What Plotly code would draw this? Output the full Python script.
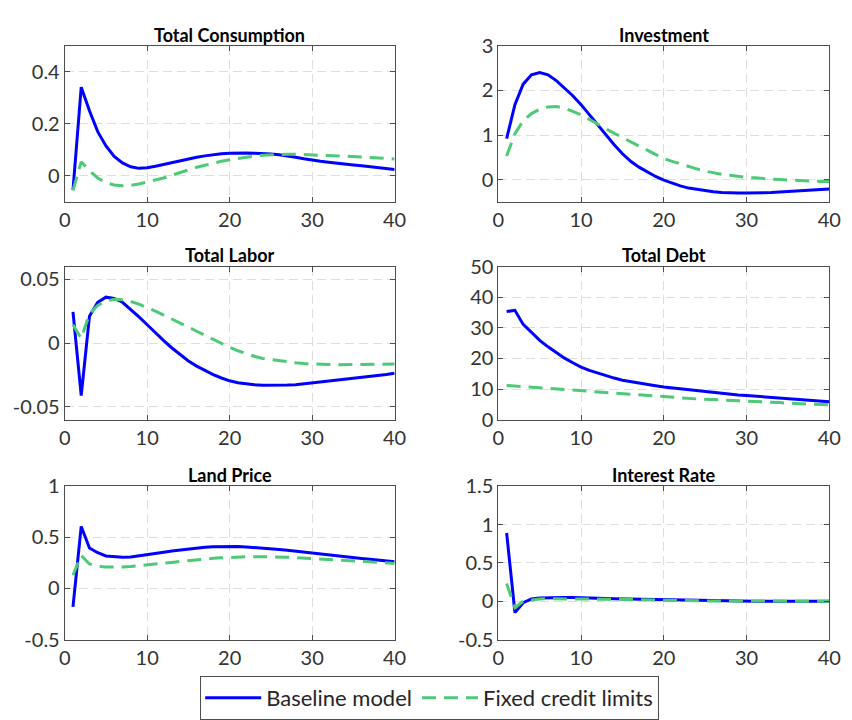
import plotly.graph_objects as go

# Impulse responses, periods 1..40
periods = list(range(1, 41))

titles = ["Total Consumption", "Investment", "Total Labor",
          "Total Debt", "Land Price", "Interest Rate"]

cons_base = [-0.055, 0.341, 0.25, 0.17, 0.115, 0.075, 0.05, 0.035, 0.029, 0.031,
             0.037, 0.044, 0.052, 0.059, 0.066, 0.072, 0.077, 0.082, 0.085, 0.087,
             0.088, 0.088, 0.087, 0.086, 0.084, 0.081, 0.077, 0.072, 0.066, 0.060,
             0.056, 0.052, 0.048, 0.045, 0.042, 0.039, 0.035, 0.032, 0.029, 0.025]
cons_fixed = [-0.055, 0.054, 0.02, -0.008, -0.026, -0.035, -0.038, -0.036, -0.031, -0.024,
              -0.016, -0.008, 0.003, 0.014, 0.024, 0.033, 0.041, 0.049, 0.056, 0.062,
              0.067, 0.072, 0.076, 0.079, 0.081, 0.083, 0.083, 0.083, 0.082, 0.081,
              0.080, 0.079, 0.077, 0.076, 0.075, 0.073, 0.071, 0.069, 0.067, 0.065]

inv_base = [0.92, 1.68, 2.14, 2.35, 2.40, 2.35, 2.22, 2.06, 1.88, 1.68,
            1.45, 1.22, 0.99, 0.78, 0.58, 0.41, 0.28, 0.17, 0.07, -0.01,
            -0.08, -0.14, -0.19, -0.22, -0.25, -0.27, -0.29, -0.30, -0.30, -0.30,
            -0.30, -0.29, -0.29, -0.28, -0.27, -0.26, -0.25, -0.24, -0.22, -0.21]
inv_fixed = [0.53, 1.03, 1.32, 1.48, 1.58, 1.63, 1.64, 1.60, 1.53, 1.45,
             1.35, 1.24, 1.14, 1.04, 0.94, 0.84, 0.75, 0.66, 0.56, 0.47,
             0.41, 0.35, 0.29, 0.24, 0.19, 0.15, 0.12, 0.10, 0.07, 0.05,
             0.04, 0.02, 0.01, 0.00, -0.01, -0.02, -0.03, -0.03, -0.04, -0.04]

lab_base = [0.0245, -0.041, 0.021, 0.032, 0.036, 0.035, 0.032, 0.0265, 0.0205, 0.0144,
            0.008, 0.0020, -0.0038, -0.0092, -0.0140, -0.0180, -0.0215, -0.0246, -0.0273, -0.0295,
            -0.0310, -0.0320, -0.0326, -0.0330, -0.0331, -0.0330, -0.0328, -0.0325, -0.0318, -0.0312,
            -0.0305, -0.0299, -0.0292, -0.0285, -0.0278, -0.0270, -0.0262, -0.0254, -0.0245, -0.0235]
lab_fixed = [0.0144, 0.0038, 0.023, 0.0295, 0.033, 0.0343, 0.034, 0.0326, 0.0305, 0.028,
             0.025, 0.022, 0.019, 0.0157, 0.0125, 0.0093, 0.006, 0.003, 0.0, -0.0033,
             -0.006, -0.0083, -0.0103, -0.012, -0.0129, -0.014, -0.0148, -0.0154, -0.016, -0.0164,
             -0.0166, -0.0168, -0.0169, -0.0169, -0.0169, -0.0168, -0.0167, -0.0166, -0.0165, -0.0164]

debt_base = [35.3, 35.7, 31.1, 28.5, 25.9, 23.8, 21.9, 20.1, 18.6, 17.2,
             16.1, 15.2, 14.4, 13.6, 12.9, 12.4, 11.9, 11.5, 11.1, 10.7,
             10.4, 10.1, 9.7, 9.4, 9.1, 8.9, 8.6, 8.4, 8.1, 7.9,
             7.7, 7.5, 7.3, 7.0, 6.8, 6.6, 6.4, 6.2, 6.1, 5.9]
debt_fixed = [11.2, 11.0, 10.8, 10.6, 10.4, 10.2, 10.0, 9.8, 9.6, 9.4,
              9.2, 9.0, 8.8, 8.6, 8.4, 8.2, 8.0, 7.8, 7.6, 7.4,
              7.3, 7.1, 7.0, 6.8, 6.7, 6.6, 6.5, 6.3, 6.2, 6.0,
              5.9, 5.8, 5.7, 5.6, 5.4, 5.3, 5.2, 5.1, 5.0, 4.9]

land_base = [-0.18, 0.607, 0.396, 0.35, 0.318, 0.308, 0.305, 0.308, 0.318, 0.330,
             0.342, 0.355, 0.366, 0.377, 0.388, 0.396, 0.403, 0.408, 0.411, 0.412,
             0.410, 0.406, 0.401, 0.395, 0.388, 0.381, 0.373, 0.365, 0.357, 0.349,
             0.340, 0.331, 0.322, 0.312, 0.303, 0.294, 0.285, 0.277, 0.269, 0.261]
land_fixed = [0.129, 0.324, 0.239, 0.217, 0.211, 0.208, 0.209, 0.214, 0.221, 0.230,
              0.238, 0.245, 0.255, 0.265, 0.274, 0.282, 0.289, 0.295, 0.300, 0.305,
              0.308, 0.310, 0.311, 0.311, 0.311, 0.309, 0.306, 0.302, 0.297, 0.292,
              0.289, 0.285, 0.282, 0.278, 0.274, 0.268, 0.262, 0.256, 0.250, 0.245]

rate_base = [0.89, -0.147, -0.02, 0.03, 0.042, 0.046, 0.049, 0.05, 0.047, 0.042,
             0.040, 0.038, 0.035, 0.032, 0.030, 0.026, 0.023, 0.019, 0.016, 0.013,
             0.011, 0.009, 0.007, 0.005, 0.004, 0.003, 0.002, 0.001, 0.001, 0.0,
             0.0, 0.0, -0.001, -0.001, -0.001, -0.001, -0.001, -0.001, -0.001, -0.001]
rate_fixed = [0.23, -0.085, 0.0, 0.02, 0.03, 0.031, 0.031, 0.031, 0.032, 0.033,
              0.032, 0.030, 0.028, 0.026, 0.025, 0.022, 0.019, 0.016, 0.014, 0.012,
              0.010, 0.008, 0.006, 0.005, 0.004, 0.003, 0.002, 0.001, 0.001, 0.0,
              0.0, 0.0, 0.0, 0.0, 0.0, 0.0, 0.0, 0.0, 0.0, 0.0]

baseline = [cons_base, inv_base, lab_base, debt_base, land_base, rate_base]
fixed = [cons_fixed, inv_fixed, lab_fixed, debt_fixed, land_fixed, rate_fixed]

y_ranges = [[-0.1, 0.5], [-0.5, 3], [-0.06, 0.06], [0, 50], [-0.5, 1], [-0.5, 1.5]]
y_ticks = [[0, 0.2, 0.4], [0, 1, 2, 3], [-0.05, 0, 0.05],
           [0, 10, 20, 30, 40, 50], [-0.5, 0, 0.5, 1], [-0.5, 0, 0.5, 1, 1.5]]
y_ticktext = [["0", "0.2", "0.4"], ["0", "1", "2", "3"], ["-0.05", "0", "0.05"],
              ["0", "10", "20", "30", "40", "50"], ["-0.5", "0", "0.5", "1"],
              ["-0.5", "0", "0.5", "1", "1.5"]]
x_ticks = [0, 10, 20, 30, 40]

BLUE = "#0000FF"
GREEN = "#4DC977"
FONT = "Lato"
W, H = 852, 720

# panel positions in pixels: (left, right) per column, (top, bottom) per row
cols = [(60, 397), (503, 841)]
rows = [(34, 196), (263, 422), (491, 650)]

fig = go.Figure()
layout = dict(
    width=W, height=H, margin=dict(l=0, r=0, t=0, b=0),
    paper_bgcolor="white", plot_bgcolor="white",
    font=dict(family=FONT, color="#262626", size=20),
    showlegend=True,
)
annotations = []

for i in range(6):
    r, c = divmod(i, 2)
    xa = "x" if i == 0 else f"x{i+1}"
    ya = "y" if i == 0 else f"y{i+1}"
    xkey = "xaxis" if i == 0 else f"xaxis{i+1}"
    ykey = "yaxis" if i == 0 else f"yaxis{i+1}"
    left, right = cols[c]
    top, bottom = rows[r]
    common = dict(
        showline=True, linecolor="#4d4d4d", linewidth=1, mirror="allticks",
        ticks="inside", ticklen=5, tickcolor="#4d4d4d", tickwidth=1,
        showgrid=True, gridcolor="#dedede", gridwidth=1, griddash="9px,5px",
        zeroline=False, tickfont=dict(family=FONT, size=20, color="#333333"),
    )
    layout[xkey] = dict(common, domain=[left / W, right / W], range=[0, 40],
                        tickvals=x_ticks, anchor=ya, fixedrange=True)
    layout[ykey] = dict(common, domain=[1 - bottom / H, 1 - top / H],
                        range=y_ranges[i], tickvals=y_ticks[i],
                        ticktext=y_ticktext[i], anchor=xa, fixedrange=True)
    fig.add_trace(go.Scatter(
        x=periods, y=baseline[i], mode="lines", name="Baseline model",
        line=dict(color=BLUE, width=3), xaxis=xa, yaxis=ya,
        showlegend=(i == 0), legendgroup="base"))
    fig.add_trace(go.Scatter(
        x=periods, y=fixed[i], mode="lines", name="Fixed credit limits",
        line=dict(color=GREEN, width=3, dash="14px,8px"), xaxis=xa, yaxis=ya,
        showlegend=(i == 0), legendgroup="fixed"))
    annotations.append(dict(
        text=f"<b>{titles[i]}</b>", xref="paper", yref="paper",
        x=(left + right) / 2 / W, y=1 - (top - 11.5) / H,
        xanchor="center", yanchor="middle", showarrow=False,
        font=dict(family=FONT, size=18, color="#000000")))

layout["annotations"] = annotations
layout["legend"] = dict(
    orientation="h", x=0.508, xanchor="center", y=1 - 688 / H, yanchor="top",
    bordercolor="#4d4d4d", borderwidth=1, bgcolor="white",
    font=dict(family=FONT, size=22, color="#262626"),
    itemwidth=56, tracegroupgap=0,
)
fig.update_layout(**layout)

fig.write_html("out.html")
